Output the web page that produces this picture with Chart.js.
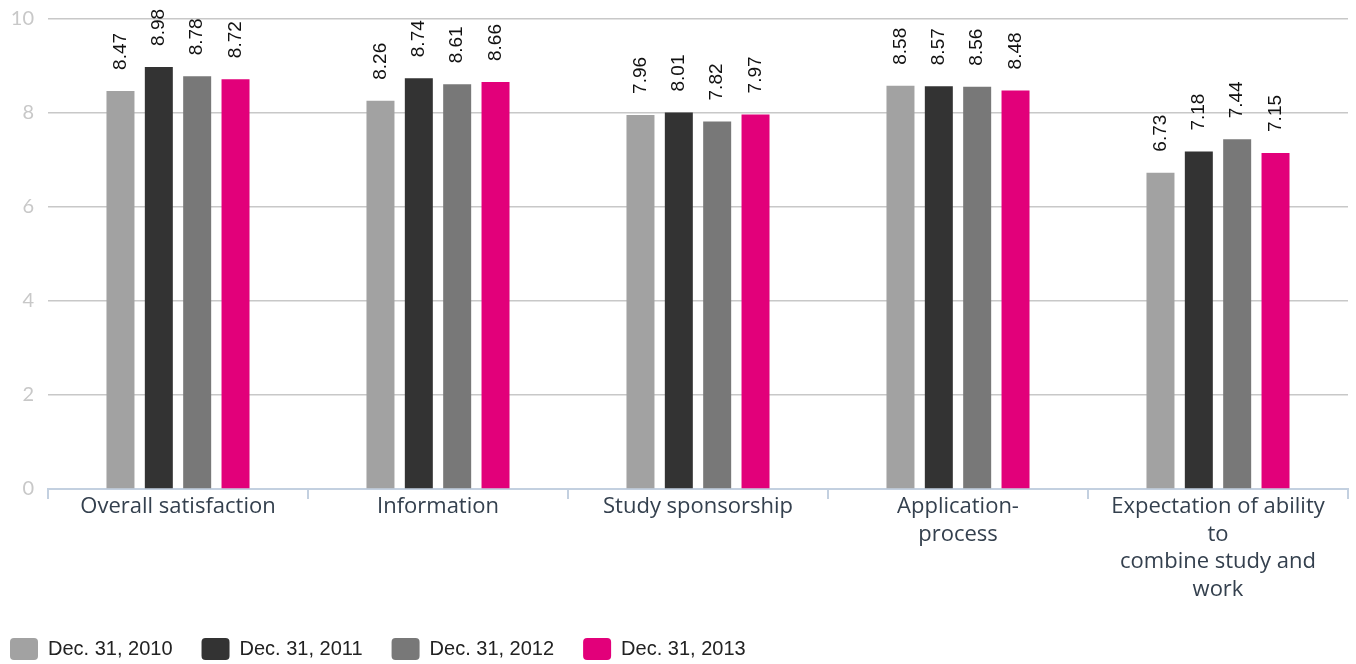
<!DOCTYPE html>
<html>
<head>
<meta charset="utf-8">
<script src="https://cdn.jsdelivr.net/npm/chart.js@4"></script>
<style>
  html, body { margin: 0; padding: 0; background: #fff; }
  #wrap { width: 1356px; height: 664px; position: relative; }
</style>
</head>
<body>
<div id="wrap"><canvas id="myChart"></canvas></div>
<script>
var categories = [
  'Overall satisfaction',
  'Information',
  'Study sponsorship',
  ['Application-', 'process'],
  ['Expectation of ability', 'to', 'combine study and', 'work']
];
var seriesNames = ['Dec. 31, 2010', 'Dec. 31, 2011', 'Dec. 31, 2012', 'Dec. 31, 2013'];
var values2010 = [8.47, 8.26, 7.96, 8.58, 6.73];
var values2011 = [8.98, 8.74, 8.01, 8.57, 7.18];
var values2012 = [8.78, 8.61, 7.82, 8.56, 7.44];
var values2013 = [8.72, 8.66, 7.97, 8.48, 7.15];
var seriesColors = ['#a2a2a2', '#333333', '#787878', '#e2007a'];

// value labels drawn vertically above each bar
var barLabels = {
  id: 'barLabels',
  afterLayout: function (chart) {
    // legend items start closer to the left edge than the item gap
    if (chart.legend) {
      chart.legend.left -= 19;
      chart.legend.right -= 19;
    }
  },
  afterDatasetsDraw: function (chart) {
    var ctx = chart.ctx;
    ctx.save();
    ctx.font = '19px "Liberation Sans", Arial, sans-serif';
    ctx.fillStyle = '#111';
    ctx.textAlign = 'left';
    ctx.textBaseline = 'middle';
    chart.data.datasets.forEach(function (ds, i) {
      chart.getDatasetMeta(i).data.forEach(function (bar, j) {
        ctx.save();
        ctx.translate(bar.x, bar.y - 21);
        ctx.rotate(-Math.PI / 2);
        ctx.fillText(ds.data[j].toFixed(2), 0, 0);
        ctx.restore();
      });
    });
    ctx.restore();
  }
};

var allValues = [values2010, values2011, values2012, values2013];

new Chart(document.getElementById('myChart'), {
  type: 'bar',
  data: {
    labels: categories,
    datasets: allValues.map(function (v, i) {
      return {
        label: seriesNames[i],
        data: v,
        backgroundColor: seriesColors[i],
        categoryPercentage: 0.59,
        barPercentage: 0.73
      };
    })
  },
  options: {
    responsive: true,
    maintainAspectRatio: false,
    animation: false,
    layout: { padding: { top: 19, right: 8, left: 0, bottom: -6 } },
    scales: {
      x: {
        grid: { display: true, drawOnChartArea: false, drawTicks: true, tickLength: 10, color: '#c3d0e0', lineWidth: 2 },
        border: { color: '#c3d0e0', width: 2 },
        ticks: {
          color: '#34404e',
          font: { family: '"Open Sans", sans-serif', size: 22, lineHeight: 1.25 },
          padding: -6,
          maxRotation: 0,
          autoSkip: false
        },
        afterFit: function (s) { s.height = 120; s.paddingLeft = 0; s.paddingRight = 0; }
      },
      y: {
        min: 0,
        max: 10,
        ticks: {
          stepSize: 2,
          color: '#c8c8c8',
          font: { family: 'Lato, sans-serif', size: 20 },
          padding: 14
        },
        grid: { color: '#c8c8c8', lineWidth: 1.5, drawTicks: false },
        border: { display: false },
        afterFit: function (s) { s.width = 48; s.paddingTop = 0; s.paddingBottom = 0; }
      }
    },
    plugins: {
      legend: {
        position: 'bottom',
        align: 'start',
        labels: {
          boxWidth: 28,
          boxHeight: 22,
          useBorderRadius: true,
          borderRadius: 4,
          padding: 29,
          color: '#222',
          font: { family: '"Liberation Sans", Arial, sans-serif', size: 20 }
        }
      },
      tooltip: { enabled: false }
    }
  },
  plugins: [barLabels]
});
</script>
</body>
</html>
